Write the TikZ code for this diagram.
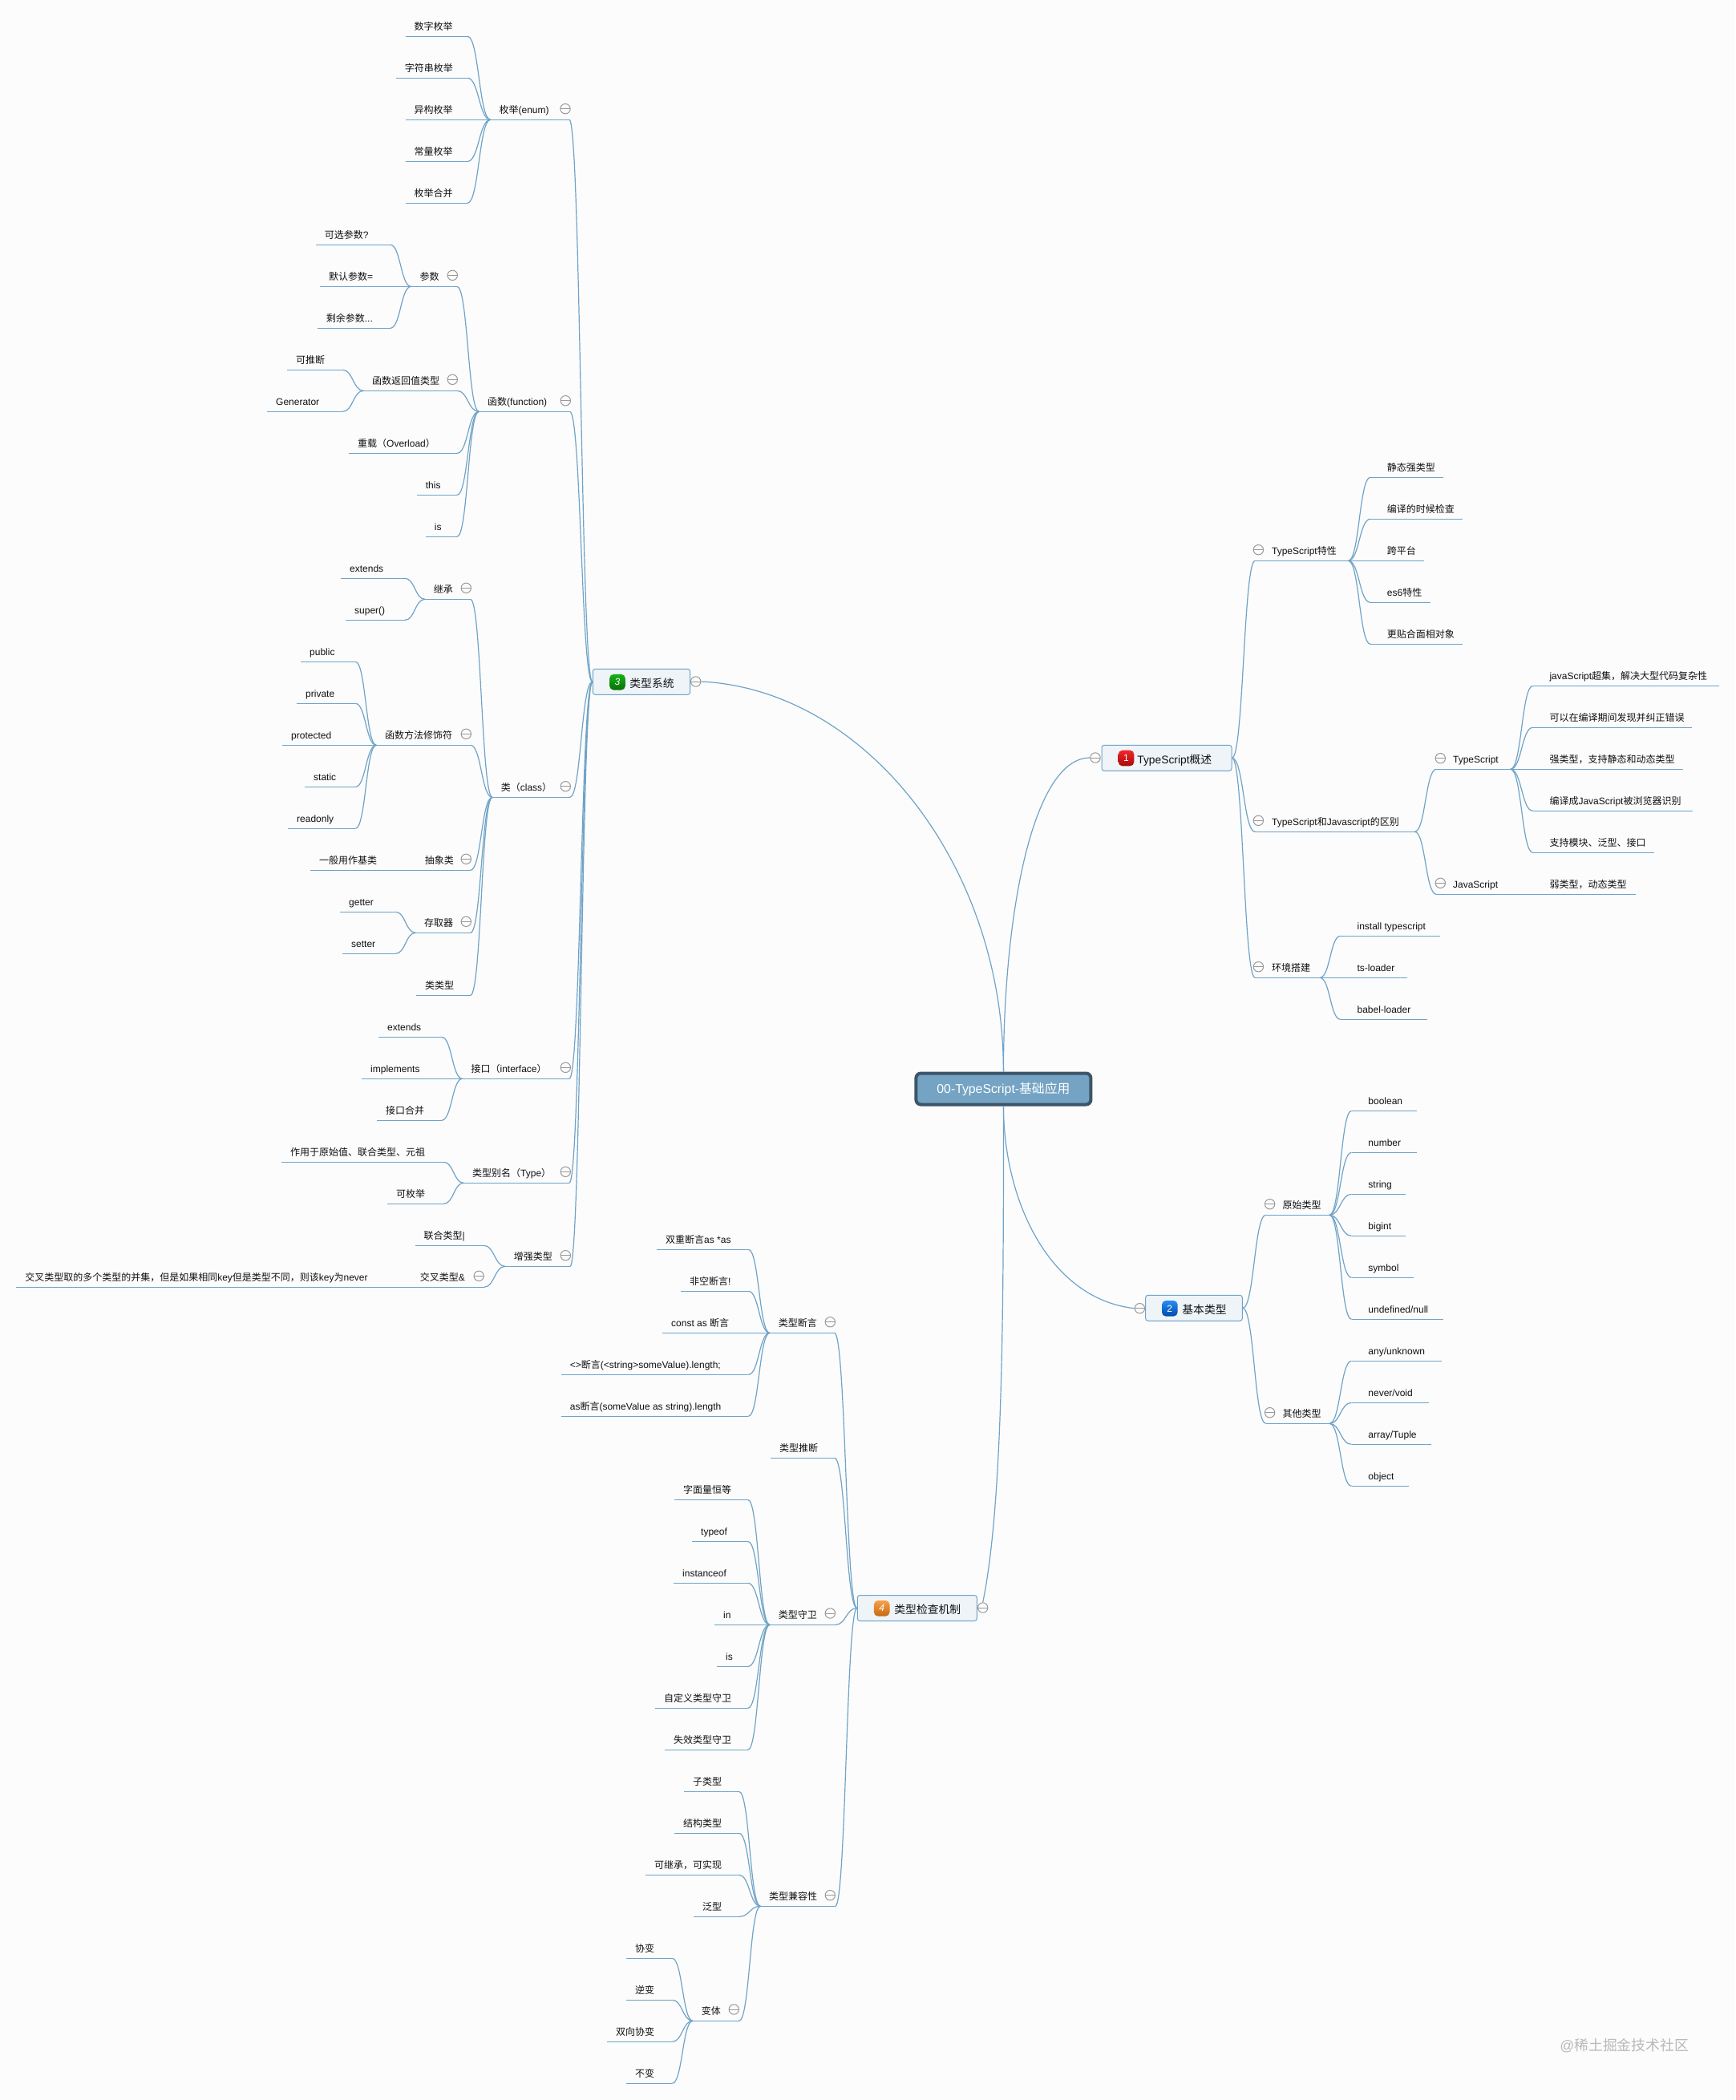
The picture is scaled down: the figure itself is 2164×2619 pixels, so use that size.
\documentclass[tikz,border=0pt]{standalone}
\usepackage{fontspec}
\setmainfont{Liberation Sans}
\newfontfamily\cjk{Noto Sans CJK SC}
\usetikzlibrary{calc}
\usetikzlibrary{shapes}
\XeTeXinterchartokenstate=1
\newXeTeXintercharclass\cjkchars
\count255="3000
\loop\XeTeXcharclass\count255=\cjkchars\ifnum\count255<"9FFF\advance\count255 by 1\repeat
\count255="FF00
\loop\XeTeXcharclass\count255=\cjkchars\ifnum\count255<"FFEF\advance\count255 by 1\repeat
\XeTeXinterchartoks 0 \cjkchars={\begingroup\cjk}
\XeTeXinterchartoks 4095 \cjkchars={\begingroup\cjk}
\XeTeXinterchartoks \cjkchars 0={\endgroup}
\XeTeXinterchartoks \cjkchars 4095={\endgroup}
\definecolor{pagebg}{HTML}{FCFCFC}
\definecolor{linecol}{HTML}{6FA3C7}
\definecolor{inkcol}{HTML}{111111}
\definecolor{rootfill}{HTML}{74A3C3}
\definecolor{rootline}{HTML}{3D5568}
\definecolor{mainfill}{HTML}{EEF4F8}
\definecolor{minuscol}{HTML}{999999}
\definecolor{redtop}{HTML}{F0282C}
\definecolor{redbot}{HTML}{A80808}
\definecolor{bluetop}{HTML}{2A8CF5}
\definecolor{bluebot}{HTML}{004AA8}
\definecolor{greentop}{HTML}{19B019}
\definecolor{greenbot}{HTML}{067006}
\definecolor{orangetop}{HTML}{F9A04A}
\definecolor{orangebot}{HTML}{C46A12}
\begin{document}
\begin{tikzpicture}[x=0.5pt,y=-0.5pt,
    wire/.style={draw=linecol,line width=0.6pt},
    branch/.style={wire,to path={.. controls ($(\tikztostart)!0.5!(\tikztostart -| \tikztotarget)$) and ($(\tikztotarget)!0.5!(\tikztotarget -| \tikztostart)$) .. (\tikztotarget) \tikztonodes}},
    topic/.style={anchor=base west,inner sep=0pt,text=inkcol,font=\fontsize{6}{7}\selectfont},
    minusnode/.style={circle,draw=minuscol,fill=pagebg,line width=0.5pt,minimum size=6.2pt,inner sep=0pt,path picture={\draw[minuscol,line width=0.5pt] (path picture bounding box.west) -- (path picture bounding box.east);}},
    rootnode/.style={draw=rootline,fill=rootfill,line width=2pt,rounded corners=3pt,minimum width=109pt,minimum height=19.5pt,inner sep=0pt,text=white,font=\fontsize{7.9}{9}\selectfont},
    mainnode/.style={draw=linecol,fill=mainfill,line width=0.5pt,rounded corners=1.5pt,minimum height=16pt,inner sep=0pt},
    maintext/.style={anchor=base west,inner sep=0pt,text=inkcol,font=\fontsize{6.9}{8}\selectfont},
    iconnode/.style={rounded corners=2.5pt,minimum size=9.8pt,inner sep=0pt,text=white,font=\fontsize{6}{7}\selectfont}
    ]
\fill[pagebg] (0,0) rectangle (2164,2619);
\useasboundingbox (0,0) rectangle (2164,2619);
\node[rootnode] at (1251.4,1358) (root) {\raisebox{-0.5pt}{00-TypeScript-基础应用}\hspace{2pt}};
\node[mainnode,minimum width=81pt] at (1455,945.3) (overview) {};
\node[mainnode,minimum width=60.3pt] at (1489,1631.3) (basic) {};
\node[mainnode,minimum width=60.7pt] at (800,850.3) (tsys) {};
\node[mainnode,minimum width=74.5pt] at (1143.8,2005.5) (check) {};
\node[iconnode,top color=redtop,bottom color=redbot] at (1404.5,945.5) (overviewicon) {1};
\node[iconnode,top color=bluetop,bottom color=bluebot] at (1458.8,1631.8) (basicicon) {2};
\node[iconnode,top color=greentop,bottom color=greenbot] at (770,850.7) (tsysicon) {\itshape 3};
\node[iconnode,top color=orangetop,bottom color=orangebot] at (1099.7,2005.8) (checkicon) {\itshape 4};
\node[maintext] at (1418,952) (overviewtext) {TypeScript概述};
\node[maintext] at (1474,1638) (basictext) {基本类型};
\node[maintext] at (785,857) (tsystext) {类型系统};
\node[maintext] at (1115,2012) (checktext) {类型检查机制};
\foreach \nm/\xa/\xb/\yy/\txt in {
    enum/611.7/710/149.3/枚举(enum),
    enumA/505.6/583/45.3/数字枚举,
    enumB/494/583/97.3/字符串枚举,
    enumC/505.6/583/149.3/异构枚举,
    enumD/505.6/583/201.3/常量枚举,
    enumE/505.6/583/253.3/枚举合并,
    func/597.3/710.7/513.3/函数(function),
    param/512.7/570/357.3/参数,
    paramA/394/486.7/305.3/可选参数?,
    paramB/399.3/486.7/357.3/默认参数=,
    paramC/396/486.7/409.3/剩余参数.{}.{}.,
    ret/453.3/570/487.3/函数返回值类型,
    retA/358.3/427.3/461.3/可推断,
    retB/333.3/427.3/513.3/Generator,
    overload/435.3/570/565.3/重载（Overload）,
    fnthis/520/570/617.3/this,
    fnis/531/570/669.3/is,
    cls/614/710.7/994.3/类（class）,
    inherit/530/586.7/747.3/继承,
    inheritA/425.3/505/721.3/extends,
    inheritB/431.3/505/773.3/super(),
    modif/469.3/586.7/929.3/函数方法修饰符,
    modifA/375.3/443.3/825.3/public,
    modifB/370.3/443.3/877.3/private,
    modifC/352.3/443.3/929.3/protected,
    modifD/380.3/443.3/981.3/static,
    modifE/359.3/443.3/1033.3/readonly,
    abstr/519/586.7/1085.3/抽象类,
    abstrA/387.3/519/1085.3/一般用作基类,
    access/518.3/586.7/1163.3/存取器,
    accessA/424.3/493.3/1137.3/getter,
    accessB/427.3/493.3/1189.3/setter,
    clstype/519.3/586.7/1241.3/类类型,
    iface/576.7/710/1345.3/接口（interface）,
    ifaceA/472.3/550.7/1293.3/extends,
    ifaceB/451.3/550.7/1345.3/implements,
    ifaceC/470.3/550.7/1397.3/接口合并,
    alias/578.3/710/1475.3/类型别名（Type）,
    aliasA/351.3/553.3/1449.3/作用于原始值、联合类型、元祖,
    aliasB/483.3/553.3/1501.3/可枚举,
    enhance/630/711/1579.3/增强类型,
    union/517.7/603.5/1553.3/联合类型|,
    cross/513/603.5/1605.3/交叉类型\&,
    crossA/20.4/513/1605.3/交叉类型取的多个类型的并集，但是如果相同key但是类型不同，则该key为never,
    assert/960/1040.7/1662.3/类型断言,
    assertA/819.3/933.3/1558.3/双重断言as *as,
    assertB/849.3/933.3/1610.3/非空断言!,
    assertC/826.3/933.3/1662.3/const as 断言,
    assertD/700/933.3/1714.3/<>断言(<string>someValue).length;,
    assertE/700/933.3/1766.3/as断言(someValue as string).length,
    infer/961.3/1040.7/1818.3/类型推断,
    guard/960/1041.7/2026.3/类型守卫,
    guardA/841.3/932.7/1870.3/字面量恒等,
    guardB/863.3/932.7/1922.3/typeof,
    guardC/840.3/932.7/1974.3/instanceof,
    guardD/891.3/932.7/2026.3/in,
    guardE/894.3/932.7/2078.3/is,
    guardF/817.3/932.7/2130.3/自定义类型守卫,
    guardG/829.3/932.7/2182.3/失效类型守卫,
    compat/948.3/1041.7/2377.3/类型兼容性,
    compatA/853.3/921.7/2234.3/子类型,
    compatB/841.3/921.7/2286.3/结构类型,
    compatC/805.3/921.7/2338.3/可继承，可实现,
    compatD/865.3/921.7/2390.3/泛型,
    vari/864/921.7/2520.3/变体,
    variA/781.3/838.3/2442.3/协变,
    variB/781.3/838.3/2494.3/逆变,
    variC/757.3/838.3/2546.3/双向协变,
    variD/781.3/838.3/2598.3/不变}{
  \coordinate (\nm-a) at (\xa,\yy);
  \coordinate (\nm-b) at (\xb,\yy);
  \draw[wire] (\nm-a) -- (\nm-b);
  \node[topic] at (\xa+10.5,\yy-8) (\nm) {\txt};
}
\foreach \nm/\xa/\xb/\yy/\txt in {
    feat/1565.2/1681.5/699.3/TypeScript特性,
    featA/1709/1800/595.3/静态强类型,
    featB/1709/1823.5/647.3/编译的时候检查,
    featC/1709/1776/699.3/跨平台,
    featD/1709/1784/751.3/es6特性,
    featE/1709/1823.5/803.3/更贴合面相对象,
    diff/1565.2/1764.3/1037.3/TypeScript和Javascript的区别,
    ts/1791.2/1883.8/959.3/TypeScript,
    tsA/1911.6/2143.5/855.3/javaScript超集，解决大型代码复杂性,
    tsB/1911.6/2110.3/907.3/可以在编译期间发现并纠正错误,
    tsC/1911.6/2098.5/959.3/强类型，支持静态和动态类型,
    tsD/1911.6/2111/1011.3/编译成JavaScript被浏览器识别,
    tsE/1911.6/2062.7/1063.3/支持模块、泛型、接口,
    js/1791.2/1911.6/1115.3/JavaScript,
    jsA/1911.6/2039.6/1115.3/弱类型，动态类型,
    env/1565.2/1646/1219.3/环境搭建,
    envA/1671.7/1795.5/1167.3/install typescript,
    envB/1671.7/1754.6/1219.3/ts-loader,
    envC/1671.7/1780/1271.3/babel-loader,
    prim/1578.6/1658/1515.3/原始类型,
    primA/1685.5/1767/1385.3/boolean,
    primB/1685.5/1767/1437.3/number,
    primC/1685.5/1753/1489.3/string,
    primD/1685.5/1753/1541.3/bigint,
    primE/1685.5/1763/1593.3/symbol,
    primF/1685.5/1800/1645.3/{undefined/null},
    other/1578.6/1658/1775.3/其他类型,
    otherA/1685.5/1798/1697.3/{any/unknown},
    otherB/1685.5/1782/1749.3/{never/void},
    otherC/1685.5/1785/1801.3/{array/Tuple},
    otherD/1685.5/1757/1853.3/object}{
  \coordinate (\nm-a) at (\xa,\yy);
  \coordinate (\nm-b) at (\xb,\yy);
  \draw[wire] (\nm-a) -- (\nm-b);
  \node[topic] at (\xa+20.5,\yy-8) (\nm) {\txt};
}
\foreach \up/\kid in {enum/enumA,enum/enumB,enum/enumC,enum/enumD,enum/enumE,
    func/param,func/ret,func/overload,func/fnthis,func/fnis,
    param/paramA,param/paramB,param/paramC,ret/retA,ret/retB,
    cls/inherit,cls/modif,cls/abstr,cls/access,cls/clstype,
    inherit/inheritA,inherit/inheritB,modif/modifA,modif/modifB,modif/modifC,modif/modifD,modif/modifE,
    abstr/abstrA,access/accessA,access/accessB,
    iface/ifaceA,iface/ifaceB,iface/ifaceC,alias/aliasA,alias/aliasB,
    enhance/union,enhance/cross,cross/crossA,
    assert/assertA,assert/assertB,assert/assertC,assert/assertD,assert/assertE,
    guard/guardA,guard/guardB,guard/guardC,guard/guardD,guard/guardE,guard/guardF,guard/guardG,
    compat/compatA,compat/compatB,compat/compatC,compat/compatD,compat/vari,
    vari/variA,vari/variB,vari/variC,vari/variD}{
  \draw[branch] (\up-a) to (\kid-b);
}
\foreach \up/\kid in {feat/featA,feat/featB,feat/featC,feat/featD,feat/featE,
    diff/ts,diff/js,ts/tsA,ts/tsB,ts/tsC,ts/tsD,ts/tsE,js/jsA,
    env/envA,env/envB,env/envC,
    prim/primA,prim/primB,prim/primC,prim/primD,prim/primE,prim/primF,
    other/otherA,other/otherB,other/otherC,other/otherD}{
  \draw[branch] (\up-b) to (\kid-a);
}
\foreach \kid in {enum,func,cls,iface,alias,enhance}{
  \draw[branch] (tsys.west) to (\kid-b);
}
\foreach \kid in {assert,infer,guard,compat}{
  \draw[branch] (check.west) to (\kid-b);
}
\foreach \kid in {feat,diff,env}{
  \draw[branch] (overview.east) to (\kid-a);
}
\foreach \kid in {prim,other}{
  \draw[branch] (basic.east) to (\kid-a);
}
\foreach \nm/\xx/\yy in {overview/1366/945,basic/1421.4/1631.7,tsys/867.7/850,check/1225.7/2005,
    enum/705/135.7,func/705.3/499.7,param/564.3/343.3,ret/564.3/473.3,cls/705.3/980.7,
    inherit/581.3/733.3,modif/581.3/915.3,abstr/581.3/1071.3,access/581.3/1149.3,
    iface/705.3/1331.3,alias/705.3/1461.3,enhance/705.3/1565.7,cross/597.2/1591.3,
    assert/1035.3/1648.7,guard/1035.3/2012,compat/1035.3/2363.6,vari/915.3/2506,
    feat/1569.4/685.7,diff/1569.4/1023.3,env/1569.4/1205.7,ts/1796.3/945.7,js/1796.3/1101.3,
    prim/1583.6/1501.7,other/1583.6/1761.7}{
  \node[minusnode] at (\xx,\yy) (\nm-minus) {};
}
\draw[wire] (root.north) .. controls (1251.8,1130) and (1290,945) .. (overview-minus.west);
\draw[wire] (root.south) .. controls (1251.8,1500) and (1310,1620) .. (basic-minus.west);
\draw[wire] (root.north) .. controls (1251.8,1080) and (1080,860) .. (tsys-minus.east);
\draw[wire] (root.south) .. controls (1251.8,1650) and (1250,1880) .. (check-minus.north);
\node[anchor=base west,inner sep=0pt,text=black!28,font=\fontsize{8.9}{10}\selectfont] at (1945,2557) (mark) {@稀土掘金技术社区};
\end{tikzpicture}
\end{document}
